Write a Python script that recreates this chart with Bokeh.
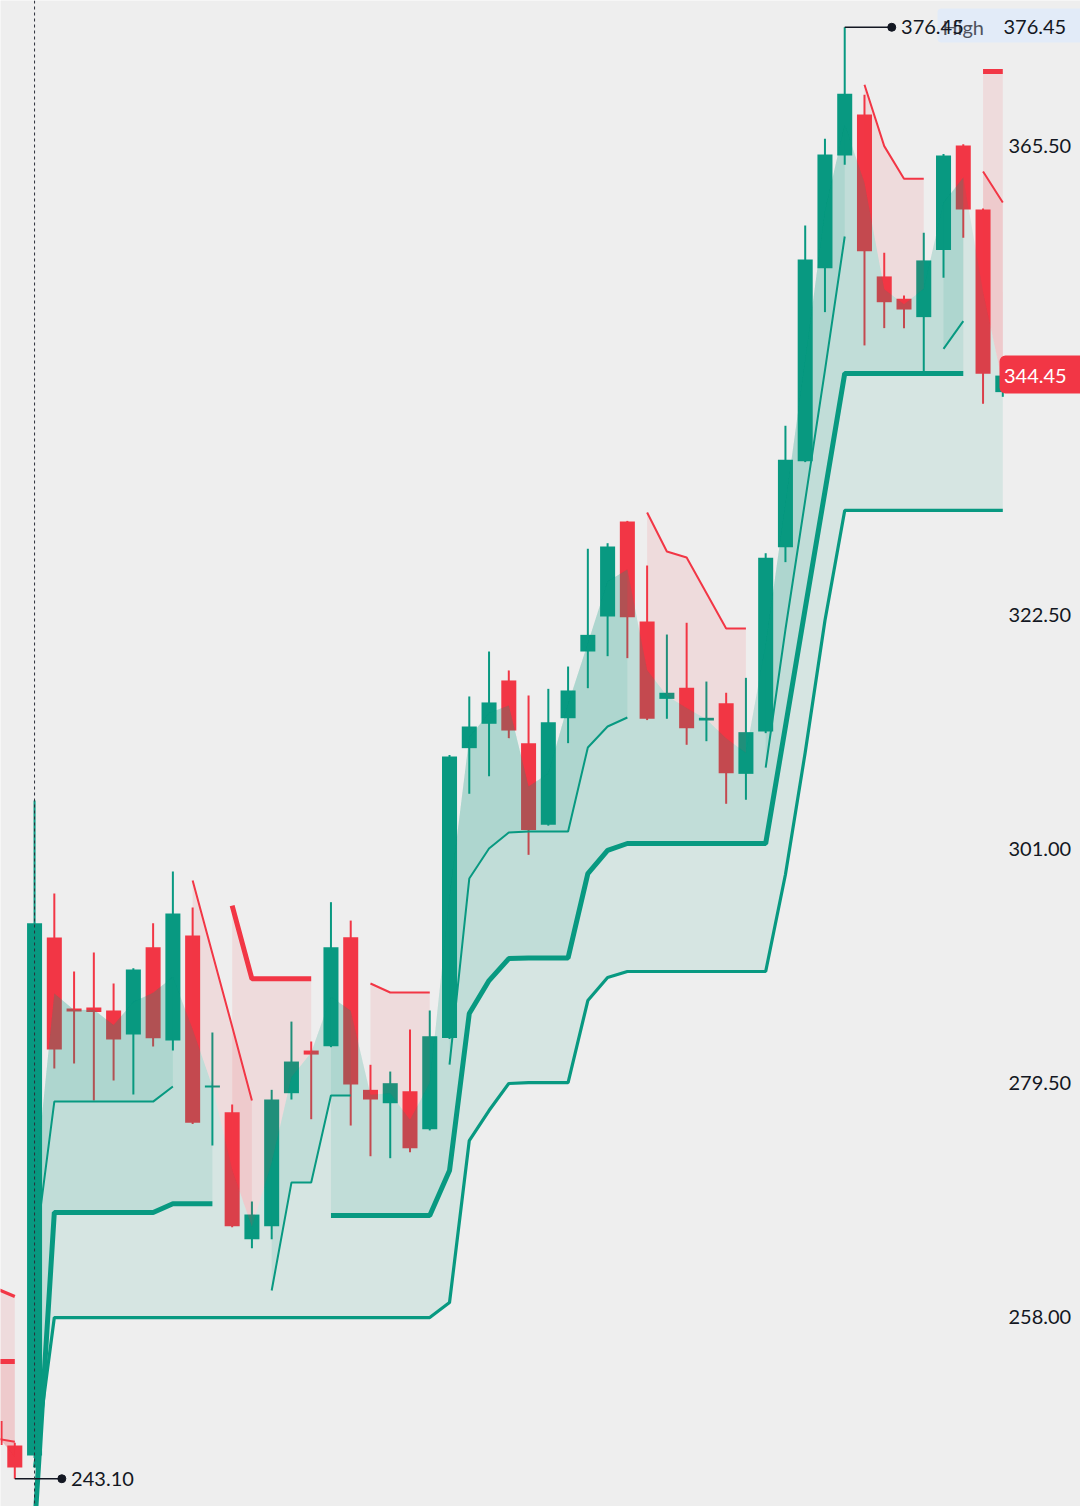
import math
import numpy as np
from bokeh.plotting import figure
from bokeh.models import Range1d, FixedTicker, NumeralTickFormatter, Span
from bokeh.embed import file_html
from bokeh.resources import INLINE
from bokeh.core.properties import value

# ---------------- data ----------------
bar_index = list(range(-1, 51))

opens = [248.4, 246.15, 245.23, 292.82, 286.30, 286.39, 286.12, 283.91, 291.93, 283.36,
         293.01, 279.04, 276.77, 265.10, 266.30, 278.52, 282.44, 282.84, 292.85, 278.83,
         277.60, 278.70, 275.21, 283.60, 310.22, 312.46, 316.44, 310.68, 303.18, 312.97,
         319.10, 322.32, 331.04, 321.86, 314.75, 315.77, 312.76, 314.35, 307.86, 311.75,
         328.68, 336.59, 354.32, 364.67, 368.44, 353.56, 351.51, 349.82, 355.99, 365.59,
         359.71, 342.93]
highs = [249.2, 246.40, 305.41, 296.87, 289.70, 291.44, 288.60, 290.00, 294.14, 298.89,
         295.58, 284.09, 277.48, 268.57, 278.83, 285.10, 283.27, 296.07, 294.38, 281.13,
         280.51, 284.37, 286.12, 309.60, 314.97, 319.10, 317.36, 315.06, 315.67, 317.72,
         328.54, 329.05, 331.10, 327.00, 320.66, 321.74, 316.34, 315.31, 316.68, 328.13,
         339.84, 358.24, 366.21, 376.45, 370.25, 355.73, 351.81, 357.57, 364.80, 365.70,
         359.80, 345.69]
lows = [245.6, 243.10, 245.00, 280.79, 281.25, 277.85, 279.68, 278.40, 282.81, 282.44,
        275.70, 273.71, 266.20, 264.28, 265.10, 277.94, 276.13, 282.75, 275.55, 272.73,
        272.55, 273.10, 275.10, 283.50, 306.03, 307.64, 311.14, 300.42, 303.10, 310.68,
        315.73, 318.67, 318.49, 312.80, 312.92, 310.53, 310.86, 305.11, 305.48, 311.60,
        327.31, 336.50, 350.28, 363.82, 347.22, 348.81, 348.81, 344.83, 353.44, 357.11,
        341.86, 342.50]
closes = [246.2, 244.13, 294.14, 282.53, 286.03, 285.98, 283.45, 289.88, 283.57, 295.02,
          275.80, 279.22, 266.30, 267.37, 277.94, 281.43, 282.07, 291.93, 279.32, 277.94,
          279.44, 273.46, 283.75, 309.45, 312.21, 314.42, 311.84, 302.70, 312.60, 315.52,
          320.63, 328.75, 322.25, 312.92, 315.31, 312.05, 313.01, 307.92, 311.69, 327.71,
          336.71, 355.12, 364.76, 370.34, 355.88, 351.19, 350.52, 355.03, 364.67, 359.71,
          344.62, 344.45]

# three supertrend lines (thin / thick / medium) and their trend direction
st_thin = [246.8, 246.5, 263.7, 277.75, 277.75, 277.75, 277.75, 277.75, 277.75, 279.13,
           298.06, 291.35, 284.65, 277.85, 260.39, 270.31, 270.31, 278.31, 278.31, 288.60,
           287.77, 287.77, 287.77, 281.15, 298.24, 301.00, 302.47, 302.56, 302.56, 302.56,
           310.28, 312.21, 313.04, 331.87, 328.29, 327.74, 324.48, 321.21, 321.21, 308.44,
           321.12, 332.98, 344.92, 357.23, 371.17, 365.53, 362.53, 362.53, 346.91, 349.45,
           363.20, 360.35]
dir_thin = list("dd" "uuuuuuuu" "dddd" "uuuuu" "dddd" "uuuuuuuuuu" "dddddd" "uuuuu" "dddd" "uu" "dd")

st_thick = [253.87, 253.87, 238.50, 267.56, 267.56, 267.56, 267.56, 267.56, 267.56, 268.36,
            268.36, 268.36, 295.76, 289.03, 289.03, 289.03, 289.03, 267.28, 267.28, 267.28,
            267.28, 267.28, 267.28, 271.41, 285.84, 288.87, 290.89, 290.95, 290.95, 290.95,
            298.70, 300.82, 301.46, 301.46, 301.46, 301.46, 301.46, 301.46, 301.46, 301.46,
            312.21, 323.05, 333.80, 344.64, 344.64, 344.64, 344.64, 344.64, 344.64, 344.64,
            372.39, 372.39]
dir_thick = list("dd" "uuuuuuuuuu" "ddddd" "uuuuuuuuuuuuuuuuuuuuuuuuuuuuuuuuu" "dd")

st_med = [260.60, 259.84, 244.13, 257.91, 257.91, 257.91, 257.91, 257.91, 257.91, 257.91,
          257.91, 257.91, 257.91, 257.91, 257.91, 257.91, 257.91, 257.91, 257.91, 257.91,
          257.91, 257.91, 257.91, 259.29, 274.17, 276.93, 279.41, 279.50, 279.50, 279.50,
          287.03, 289.15, 289.70, 289.70, 289.70, 289.70, 289.70, 289.70, 289.70, 289.70,
          298.61, 309.82, 321.95, 332.06, 332.06, 332.06, 332.06, 332.06, 332.06, 332.06,
          332.06, 332.06]
dir_med = list("dd" "uuuuuuuuuuuuuuuuuuuuuuuuuuuuuuuuuuuuuuuuuuuuuuuuuu")

price_ticks = [258.00, 279.50, 301.00, 322.50, 365.50]
last_price = 344.45
high_label = "High"

# ---------------- style / layout ----------------
UP = "#089981"
DN = "#f23645"
BG = "#eeeeee"
INK = "#131722"
FONT = "Lato"

W, H = 1080, 1506
BAR_PX = 19.76          # pixel distance between bars
X0_PX = 14.3            # pixel of bar 0 from frame left
PX_PER_PRICE = 10.884
x_start = -X0_PX / BAR_PX
x_end = (W - X0_PX) / BAR_PX


def px_x(px):
    return (px - X0_PX) / BAR_PX


p = figure(width=W, height=H, output_backend="svg", toolbar_location=None,
           x_range=Range1d(x_start, x_end), y_range=Range1d(240.55, 378.91),
           x_axis_location=None, y_axis_location="right",
           min_border=0, min_border_right=0,
           background_fill_color=BG, border_fill_color=BG, outline_line_color=None)
p.grid.visible = False

ax = p.yaxis[0]
ax.ticker = FixedTicker(ticks=price_ticks)
ax.formatter = NumeralTickFormatter(format="0.00")
ax.axis_line_color = None
ax.major_tick_line_color = None
ax.minor_tick_line_color = None
ax.major_tick_out = 0
ax.major_tick_in = 0
ax.major_label_standoff = -72
ax.major_label_text_font = FONT
ax.major_label_text_font_size = "20px"
ax.major_label_text_color = INK

# ---------------- candles ----------------
colors = [UP if c >= o else DN for o, c in zip(opens, closes)]
tops = [max(o, c) for o, c in zip(opens, closes)]
bots = [min(o, c) for o, c in zip(opens, closes)]
p.segment(x0=bar_index, y0=highs, x1=bar_index, y1=lows, line_color=colors, line_width=2)
p.vbar(x=bar_index, top=tops, bottom=bots, width=0.76, fill_color=colors, line_color=None)

# ---------------- supertrend fills ----------------
mids = [(o + c) / 2 for o, c in zip(opens, closes)]


def runs(dirs):
    out = []
    start = 0
    for i in range(1, len(dirs) + 1):
        if i == len(dirs) or dirs[i] != dirs[start]:
            out.append((start, i, dirs[start]))
            start = i
    return out


fxs, fys, fcs = [], [], []
for vals, dirs in [(st_med, dir_med), (st_thick, dir_thick), (st_thin, dir_thin)]:
    for a, b, d in runs(dirs):
        if b - a < 2:
            continue
        xs = bar_index[a:b] + bar_index[a:b][::-1]
        ys = mids[a:b] + vals[a:b][::-1]
        fxs.append(xs)
        fys.append(ys)
        fcs.append(UP if d == "u" else DN)
p.patches(xs=fxs, ys=fys, fill_color=fcs, fill_alpha=0.1, line_color=None)

# ---------------- supertrend lines ----------------
for vals, dirs, lw in [(st_med, dir_med, 3.2), (st_thick, dir_thick, 5), (st_thin, dir_thin, 2)]:
    for d, col in [("u", UP), ("d", DN)]:
        ys = [v if dd == d else float("nan") for v, dd in zip(vals, dirs)]
        p.line(bar_index, ys, line_color=col, line_width=lw)

# ---------------- session line ----------------
p.add_layout(Span(location=bar_index[2], dimension="height", line_color="#2a2e39",
                  line_width=1, line_dash="3 3"))

hi_k = int(np.argmax(highs))
lo_k = int(np.argmin(lows))
hi_x, hi_v = bar_index[hi_k], highs[hi_k]
lo_x, lo_v = bar_index[lo_k], lows[lo_k]

# ---------------- price-scale "High" box (under the marker text) ----------------
hb = p.quad(left=[px_x(937)], right=[px_x(1095)],
            top=[hi_v + 18.8 / PX_PER_PRICE], bottom=[hi_v - 15.2 / PX_PER_PRICE],
            fill_color="#e2ebf8", line_color=None)
try:
    hb.glyph.border_radius = 4
except Exception:
    pass
p.text(x=[px_x(942)], y=[hi_v], text=[high_label], text_font=value(FONT), text_font_size="20px",
       text_baseline="middle", text_color="#50535e")
p.text(x=[px_x(1003)], y=[hi_v], text=[f"{hi_v:.2f}"], text_font=value(FONT),
       text_font_size="20px", text_baseline="middle", text_color=INK)

# ---------------- high / low markers ----------------
for bx, bv in [(hi_x, hi_v), (lo_x, lo_v)]:
    p.segment(x0=[bx], y0=[bv], x1=[bx + 2.38], y1=[bv], line_color=INK, line_width=1.5)
    p.scatter(x=[bx + 2.38], y=[bv], size=8, color=INK)
    p.text(x=[bx + 2.85], y=[bv], text=[f"{bv:.2f}"], text_font=value(FONT),
           text_font_size="20px", text_baseline="middle", text_color=INK)

# ---------------- last price label ----------------
lb = p.quad(left=[px_x(999)], right=[px_x(1095)],
            top=[last_price + 20.0 / PX_PER_PRICE], bottom=[last_price - 17.8 / PX_PER_PRICE],
            fill_color=DN, line_color=None)
try:
    lb.glyph.border_radius = 6
except Exception:
    pass
p.text(x=[px_x(1003.5)], y=[last_price], text=[f"{last_price:.2f}"], text_font=value(FONT),
       text_font_size="20px", text_baseline="middle", text_color="white")

open("out.html", "w").write(file_html(p, INLINE))
